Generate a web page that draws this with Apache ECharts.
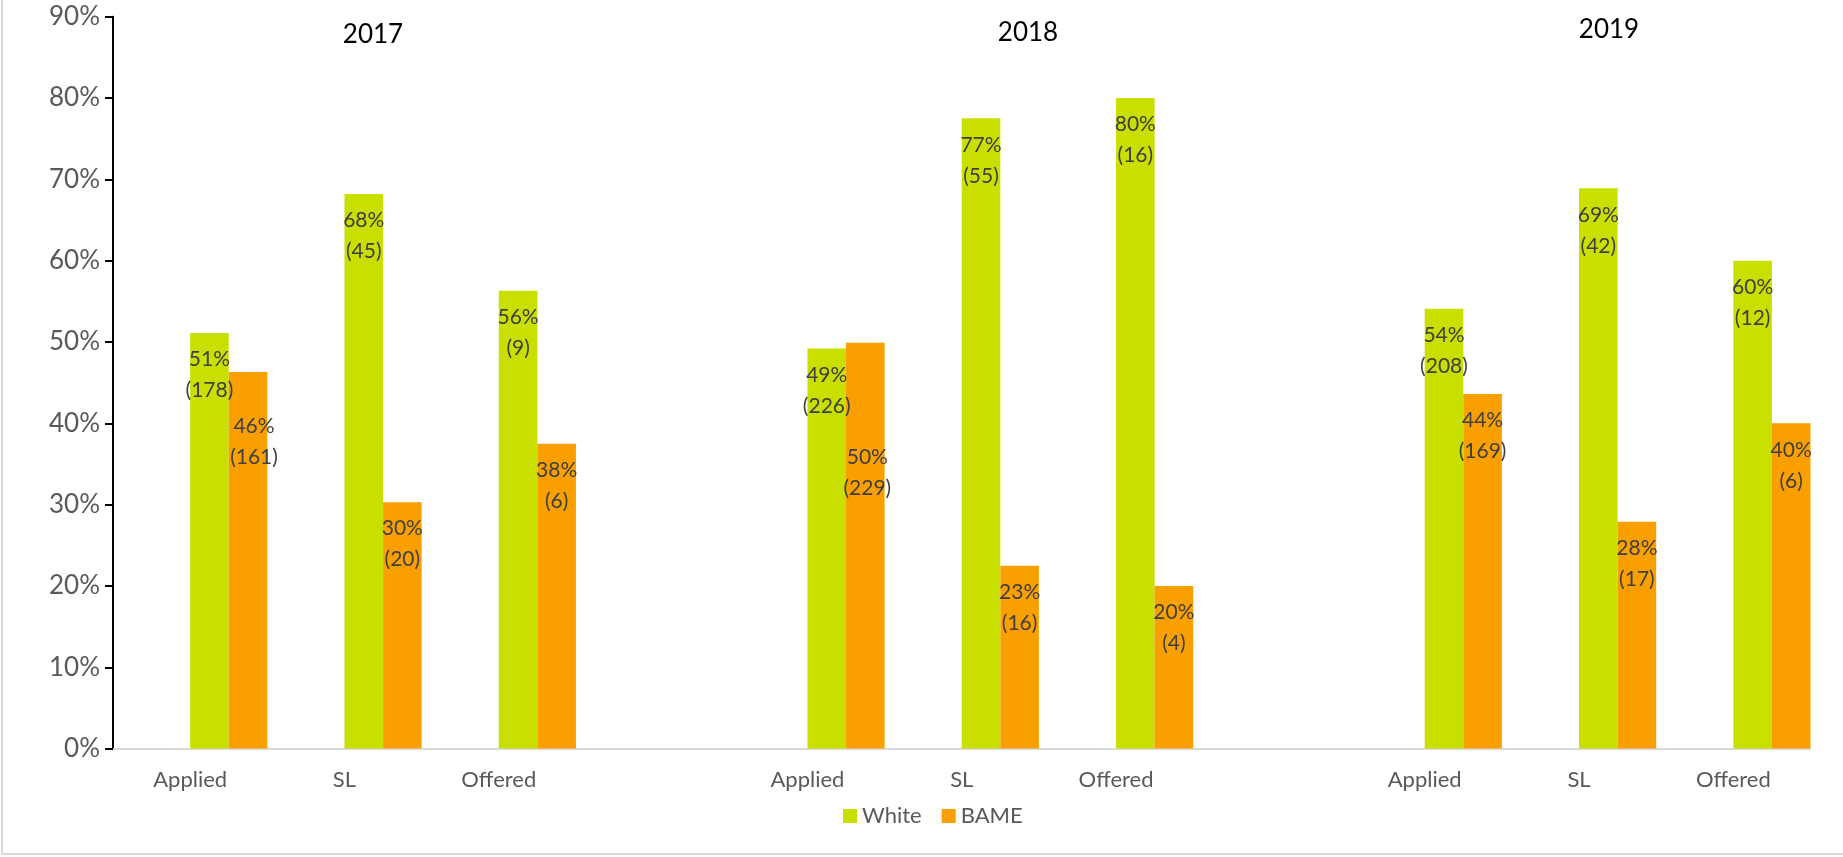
<!DOCTYPE html>
<html>
<head>
<meta charset="utf-8">
<script src="https://cdn.jsdelivr.net/npm/echarts@6/dist/echarts.min.js"></script>
<style>
html,body{margin:0;padding:0;background:#fff;}
#chart{width:1843px;height:857px;}
</style>
</head>
<body>
<div id="chart"></div>
<script>
// ---- data ----
var categories = ['Applied', 'SL', 'Offered', '', 'Applied', 'SL', 'Offered', '', 'Applied', 'SL', 'Offered'];
var years = ['2017', '2018', '2019'];
var whiteValues = [51.1, 68.2, 56.3, null, 49.2, 77.5, 80.0, null, 54.1, 68.9, 60.0];
var bameValues  = [46.3, 30.3, 37.5, null, 49.9, 22.5, 20.0, null, 43.6, 27.9, 40.0];
var whitePct    = [51, 68, 56, null, 49, 77, 80, null, 54, 69, 60];
var bamePct     = [46, 30, 38, null, 50, 23, 20, null, 44, 28, 40];
var whiteCount  = [178, 45, 9, null, 226, 55, 16, null, 208, 42, 12];
var bameCount   = [161, 20, 6, null, 229, 16, 4, null, 169, 17, 6];
var yTicks = { min: 0, max: 90, interval: 10 };

// ---- chart ----
var FONT = 'Lato, "Noto Sans", sans-serif';
var chart = echarts.init(document.getElementById('chart'), null, { renderer: 'canvas' });

// manual label shifts (as in the reference, a few labels were moved down)
var bameShift = { 0: [6, 28], 4: [2, 88] };

function labelFor(pcts, counts) {
  return function (p) {
    var i = p.dataIndex;
    if (pcts[i] == null) return '';
    return pcts[i] + '%\n(' + counts[i] + ')';
  };
}

var labelBase = {
  show: true,
  position: 'insideTop',
  distance: 11,
  color: '#404040',
  fontFamily: FONT,
  fontSize: 21,
  lineHeight: 31
};

var bameData = bameValues.map(function (v, i) {
  if (bameShift[i]) return { value: v, label: { offset: bameShift[i] } };
  return v;
});

var placeholder = categories.map(function () { return null; });

var option = {
  backgroundColor: '#fff',
  animation: false,
  grid: { left: 113, right: 32.5, top: 16.7, bottom: 108.4 },
  legend: {
    data: ['White', 'BAME'],
    left: 838,
    top: 800,
    icon: 'rect',
    itemWidth: 14,
    itemHeight: 14,
    itemGap: 20,
    textStyle: { color: '#595959', fontFamily: FONT, fontSize: 22 }
  },
  xAxis: {
    type: 'category',
    data: categories,
    axisLine: { show: true, lineStyle: { color: '#d9d9d9', width: 2 } },
    axisTick: { show: false },
    axisLabel: { interval: 0, color: '#595959', fontFamily: FONT, fontSize: 22, margin: 20 },
    splitLine: { show: false }
  },
  yAxis: {
    type: 'value',
    min: yTicks.min,
    max: yTicks.max,
    interval: yTicks.interval,
    axisLine: { show: true, lineStyle: { color: '#000', width: 2 } },
    axisTick: { show: true, length: 8, lineStyle: { color: '#000', width: 2 } },
    axisLabel: { formatter: '{value}%', color: '#595959', fontFamily: FONT, fontSize: 26, margin: 13 },
    splitLine: { show: false }
  },
  series: [
    { type: 'bar', data: placeholder, barGap: '0%', barCategoryGap: '0%', silent: true },
    { type: 'bar', data: placeholder, barGap: '0%', barCategoryGap: '0%', silent: true },
    {
      name: 'White', type: 'bar', data: whiteValues,
      barGap: '0%', barCategoryGap: '0%',
      itemStyle: { color: '#c9df00' },
      label: Object.assign({}, labelBase, { formatter: labelFor(whitePct, whiteCount) })
    },
    {
      name: 'BAME', type: 'bar', data: bameData,
      barGap: '0%', barCategoryGap: '0%',
      itemStyle: { color: '#f9a000' },
      label: Object.assign({}, labelBase, { formatter: labelFor(bamePct, bameCount) })
    }
  ],
  graphic: [
    { type: 'rect', silent: true, z: -10,
      shape: { x: 2, y: -10, width: 1860, height: 864 },
      style: { fill: 'none', stroke: '#d9d9d9', lineWidth: 2 } },
    { type: 'text', x: 373, y: 35, style: { text: years[0], fill: '#000', font: '26px ' + FONT, textAlign: 'center', textVerticalAlign: 'middle' } },
    { type: 'text', x: 1028, y: 33, style: { text: years[1], fill: '#000', font: '26px ' + FONT, textAlign: 'center', textVerticalAlign: 'middle' } },
    { type: 'text', x: 1609, y: 30, style: { text: years[2], fill: '#000', font: '26px ' + FONT, textAlign: 'center', textVerticalAlign: 'middle' } }
  ]
};

chart.setOption(option);
</script>
</body>
</html>
